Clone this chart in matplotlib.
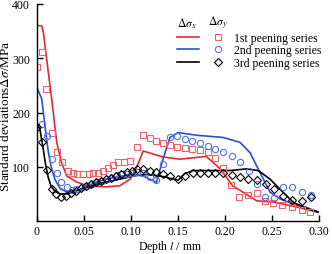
import numpy as np
import matplotlib
matplotlib.use("Agg")
import matplotlib.pyplot as plt
from matplotlib.lines import Line2D

plt.rcParams['font.family'] = ['Liberation Serif', 'DejaVu Serif']
plt.rcParams['mathtext.fontset'] = 'stix'

# 1st peening series
d1x = [0.001, 0.005, 0.0067, 0.0156, 0.021, 0.026, 0.0316, 0.042, 0.056, 0.074, 0.088,
       0.099, 0.106, 0.113, 0.134, 0.152, 0.180, 0.195, 0.208, 0.234, 0.251, 0.276, 0.299]
s1x = [360, 360, 348, 225, 145, 108, 83, 72, 64, 63, 65,
       77, 99, 129, 118, 114, 119, 96, 65, 37, 35, 26, 16]
d1y = [0.0003, 0.005, 0.0096, 0.0156, 0.021, 0.027, 0.033, 0.038, 0.043, 0.049, 0.055,
       0.060, 0.065, 0.0705, 0.076, 0.081, 0.0865, 0.093, 0.099, 0.106, 0.113, 0.120,
       0.127, 0.134, 0.141, 0.149, 0.157, 0.1646, 0.173, 0.182, 0.189, 0.198, 0.206,
       0.215, 0.224, 0.234, 0.2426, 0.251, 0.261, 0.271, 0.2816, 0.290]
s1y = [283, 311, 244, 162, 128, 108, 93, 88, 87, 87, 87,
       88, 88, 93, 97, 103, 108, 108, 111, 136, 159, 153,
       148, 144, 140, 136, 134, 133, 131, 128, 117, 98, 66,
       44, 48, 52, 37, 33, 29, 25, 21, 17]

# 2nd peening series
d2x = [0.0, 0.005, 0.0085, 0.012, 0.015, 0.019, 0.0245, 0.030, 0.035, 0.042, 0.053,
       0.0635, 0.078, 0.092, 0.100, 0.113, 0.127, 0.134, 0.1415, 0.150, 0.170, 0.198,
       0.216, 0.2266, 0.237, 0.248, 0.2585, 0.273, 0.287, 0.299]
s2x = [246, 225, 175, 128, 100, 77, 60, 55, 53, 56, 64,
       72, 79, 83, 86, 83, 71, 114, 154, 163, 158, 154,
       145, 126, 90, 53, 41, 31, 25, 16]
d2y = [0.0057, 0.0103, 0.0156, 0.021, 0.026, 0.0316, 0.037, 0.042, 0.0476, 0.053, 0.058,
       0.0635, 0.069, 0.074, 0.0795, 0.085, 0.090, 0.0955, 0.1007, 0.106, 0.113, 0.120,
       0.127, 0.134, 0.1415, 0.149, 0.157, 0.1646, 0.173, 0.182, 0.189, 0.198, 0.207,
       0.216, 0.225, 0.234, 0.2426, 0.2525, 0.262, 0.2716, 0.2816, 0.292]
s2y = [179, 157, 114, 88, 71, 62, 57, 59, 62, 65, 68,
       71, 74, 77, 80, 85, 87, 87, 88, 90, 88, 82,
       76, 105, 154, 157, 151, 148, 144, 138, 133, 128, 119,
       109, 93, 68, 44, 42, 62, 62, 53, 48]

# 3rd peening series
d3x = [0.0, 0.003, 0.006, 0.009, 0.012, 0.015, 0.019, 0.024, 0.032, 0.042, 0.053,
       0.0635, 0.074, 0.085, 0.0955, 0.106, 0.1167, 0.134, 0.150, 0.157, 0.166, 0.184,
       0.205, 0.223, 0.2354, 0.248, 0.260, 0.273, 0.287, 0.299]
s3x = [179, 170, 140, 105, 80, 64, 55, 50, 50, 56, 62,
       68, 72, 76, 80, 84, 86, 82, 75, 87, 93, 93,
       93, 96, 93, 77, 56, 34, 23, 17]
d3y = [0.0, 0.005, 0.0103, 0.0156, 0.020, 0.025, 0.031, 0.036, 0.0415, 0.0465, 0.052,
       0.057, 0.0624, 0.068, 0.0734, 0.0787, 0.084, 0.089, 0.0955, 0.1007, 0.106, 0.113,
       0.120, 0.127, 0.134, 0.1415, 0.150, 0.157, 0.1656, 0.173, 0.182, 0.189, 0.198,
       0.207, 0.216, 0.2248, 0.2337, 0.2436, 0.2525, 0.262, 0.2716, 0.2816, 0.291]
s3y = [174, 145, 94, 59, 49, 44, 47, 52, 56, 60, 65,
       68, 71, 74, 77, 80, 83, 87, 90, 93, 95, 95,
       93, 90, 87, 83, 77, 83, 88, 88, 88, 88, 88,
       85, 82, 77, 75, 68, 59, 47, 39, 37, 44]

red, red_m = '#e8262f', '#f0606a'
blue, blue_m = '#2a4fd6', '#5573e0'
fs = 8.5

fig = plt.figure(figsize=(3.32, 2.55), dpi=100)
ax = fig.add_axes([37/332, 1 - 222/255, 282/332, 217/255])

ax.plot(d1x, s1x, color=red, lw=1.2)
ax.plot(d2x, s2x, color=blue, lw=1.2)
ax.plot(d3x, s3x, color='black', lw=1.2)
ax.plot(d1y, s1y, 's', ms=4.3, mfc='none', mec=red_m, mew=0.8)
ax.plot(d2y, s2y, 'o', ms=4.5, mfc='none', mec=blue_m, mew=0.8)
ax.plot(d3y, s3y, 'D', ms=4.3, mfc='none', mec='black', mew=0.8)

ax.set_xlim(0, 0.30)
ax.set_ylim(0, 400)
ax.set_xticks([0, 0.05, 0.10, 0.15, 0.20, 0.25, 0.30])
ax.set_xticklabels(['0', '0.05', '0.10', '0.15', '0.20', '0.25', '0.30'])
ax.set_yticks([100, 200, 300, 400])
ax.tick_params(direction='in', length=4, width=1, labelsize=fs)
ax.tick_params(axis='x', pad=3)
ax.tick_params(axis='y', pad=5)
for s in ['top', 'right']:
    ax.spines[s].set_visible(False)
for s in ['left', 'bottom']:
    ax.spines[s].set_linewidth(1.0)

ax.set_xlabel('Depth $l$ / mm', fontsize=fs)
ax.set_ylabel(r'Standard deviations$\Delta\sigma$/MPa', fontsize=9.5)
ax.xaxis.set_label_coords(0.472, -0.08)
ax.yaxis.set_label_coords(-0.09, 0.488)

# legend: lines column (Δσx) and marker column (Δσy)
lines_h = [Line2D([], [], color=c, lw=1.2) for c in [red, blue, 'black']]
marks_h = [Line2D([], [], ls='none', marker='s', ms=4.3, mfc='none', mec=red_m, mew=0.8),
           Line2D([], [], ls='none', marker='o', ms=4.5, mfc='none', mec=blue_m, mew=0.8),
           Line2D([], [], ls='none', marker='D', ms=4.3, mfc='none', mec='black', mew=0.8)]
labels = ['1st peening series', '2nd peening series', '3rd peening series']

leg_top = 0.872
leg1 = ax.legend(lines_h, ['', '', ''], loc='upper left', bbox_to_anchor=(0.496, leg_top),
                 frameon=False, handlelength=1.9, handletextpad=0, borderpad=0,
                 borderaxespad=0, labelspacing=0.05, fontsize=fs)
ax.add_artist(leg1)
ax.legend(marks_h, labels, loc='upper left', bbox_to_anchor=(0.62, leg_top),
          frameon=False, handlelength=1.0, handletextpad=0.9, borderpad=0,
          borderaxespad=0, labelspacing=0.05, fontsize=fs)
ax.text(0.496, 0.915, r'$\Delta\sigma_x$', transform=ax.transAxes, fontsize=fs,
        va='center', ha='left')
ax.text(0.607, 0.915, r'$\Delta\sigma_y$', transform=ax.transAxes, fontsize=fs,
        va='center', ha='left')

fig.savefig('out.png', dpi=100)
